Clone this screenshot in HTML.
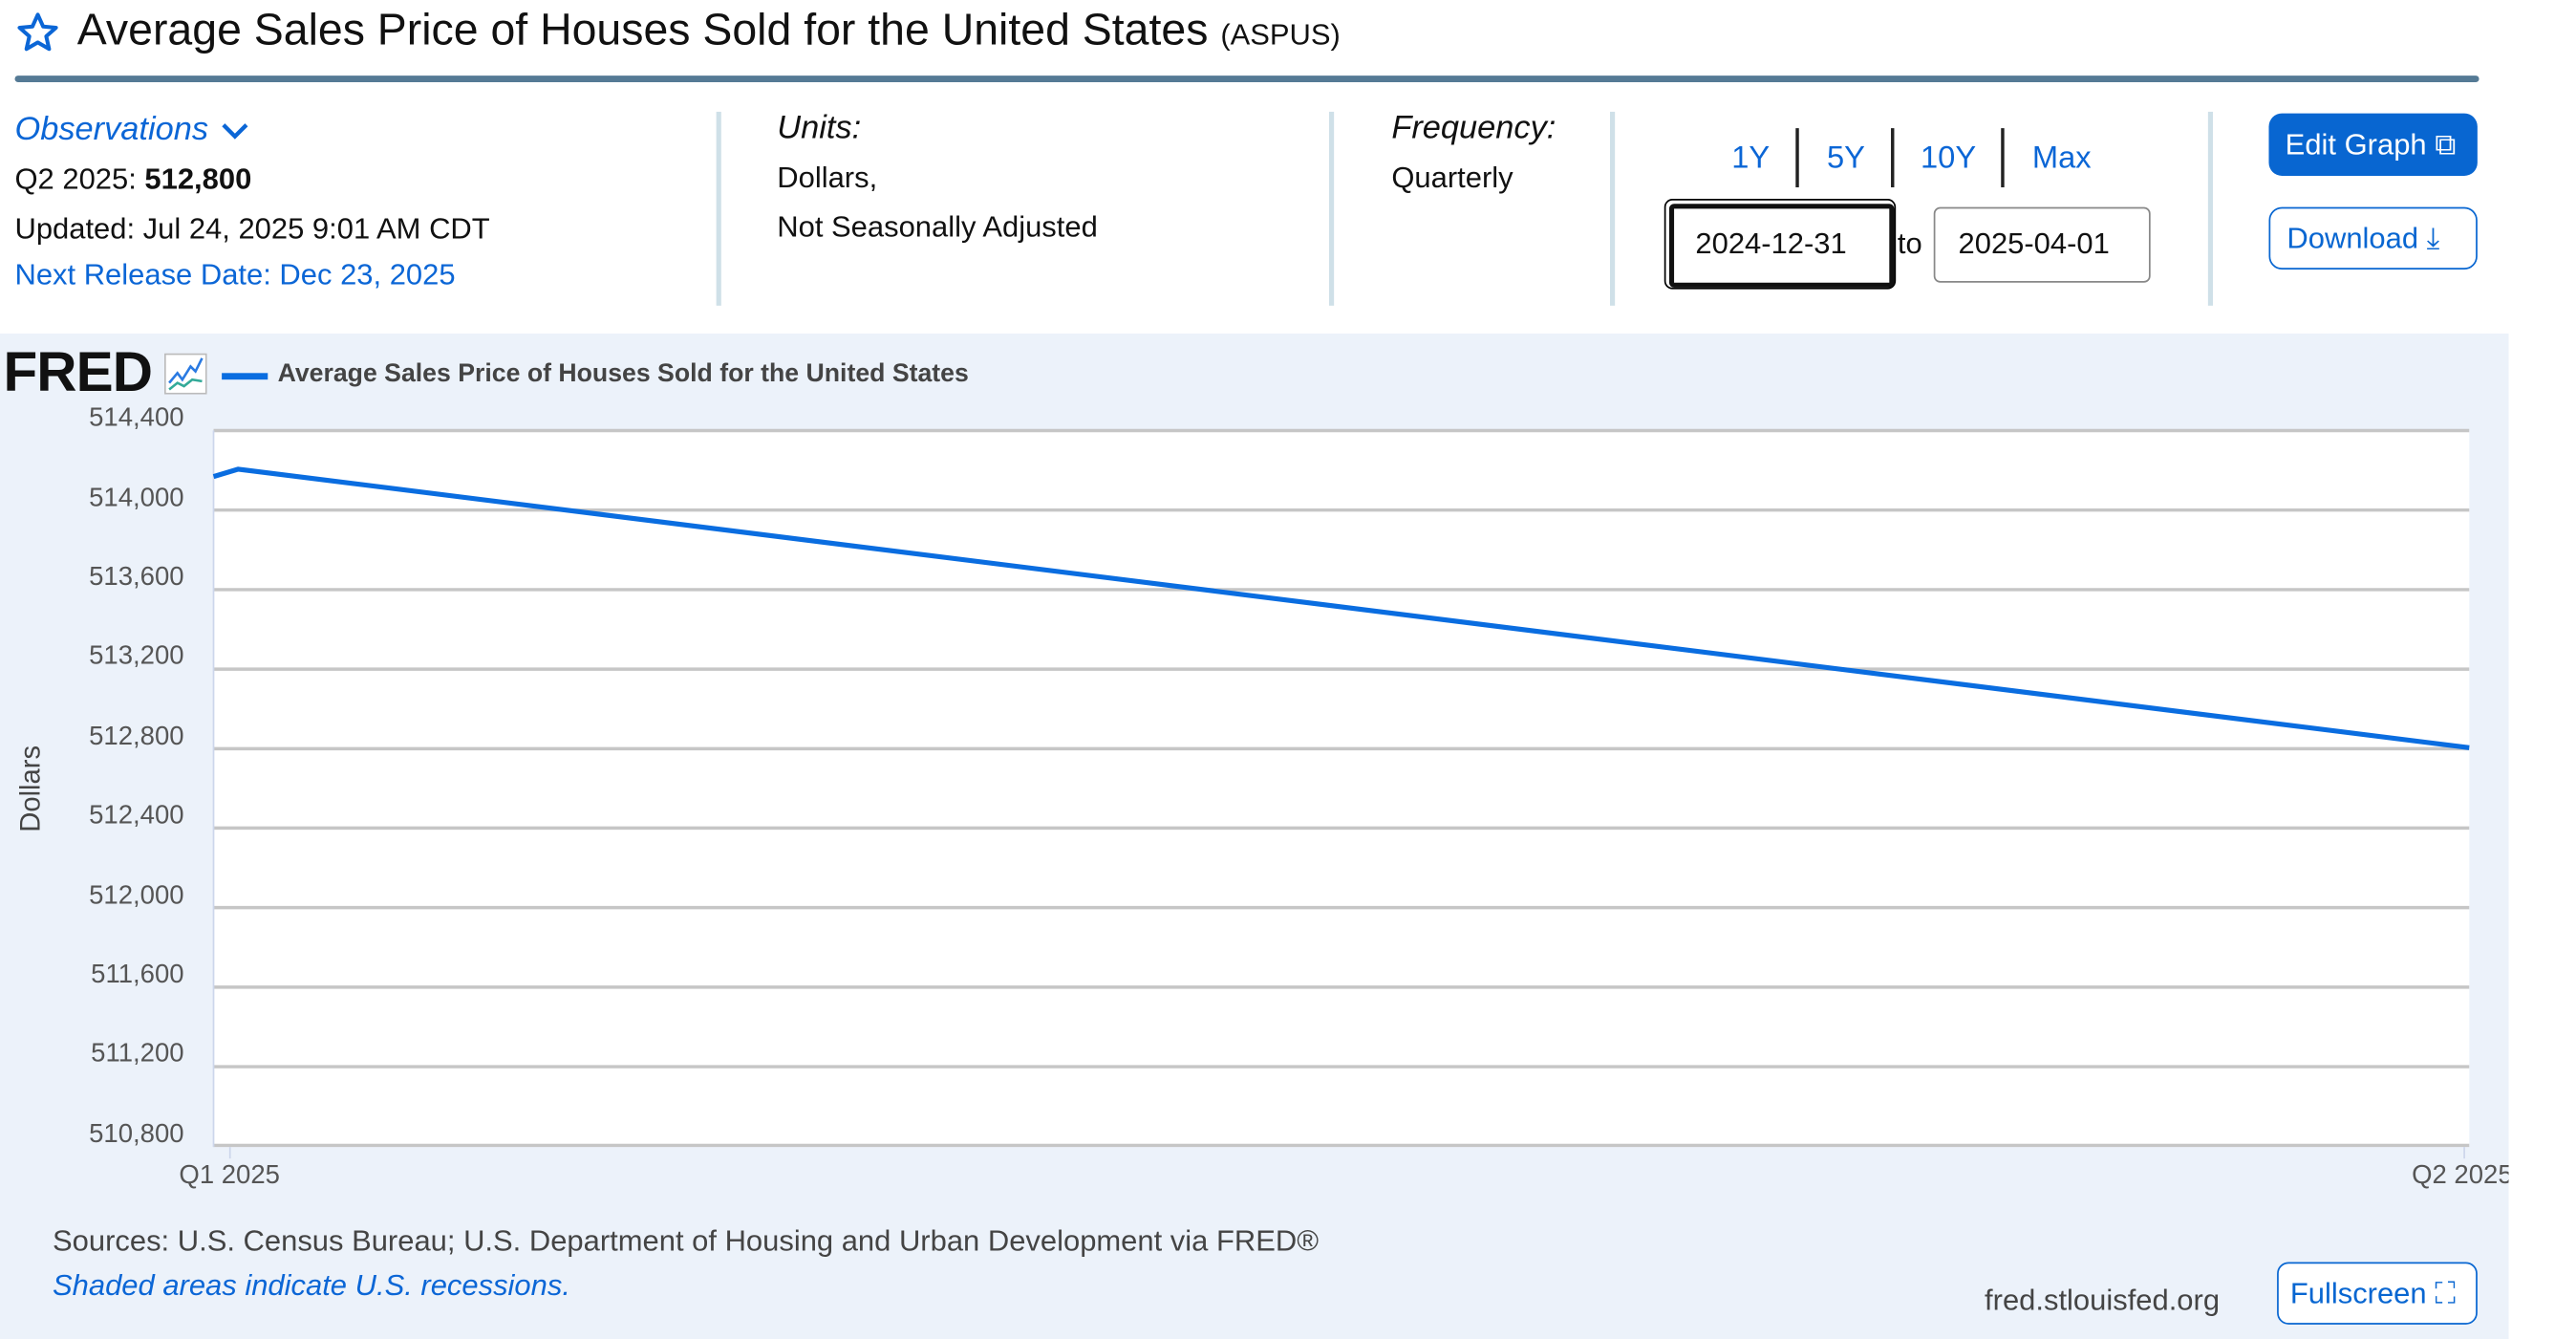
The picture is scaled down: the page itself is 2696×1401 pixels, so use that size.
<!DOCTYPE html>
<html><head><meta charset="utf-8">
<style>
html,body{margin:0;padding:0;background:#fff;width:2696px;height:1400px;overflow:hidden}
#s{position:absolute;left:0;top:0;width:1568px;height:815px;transform:scale(1.7194);transform-origin:0 0;font-family:"Liberation Sans",Arial,sans-serif;color:#111}
.a{position:absolute;white-space:nowrap}
.blue{color:#0b66d6}
.div{position:absolute;top:68px;height:118px;width:3px;background:#cfe0e8}
.sep{position:absolute;top:78px;height:36px;width:1.5px;background:#222}
.yl{position:absolute;right:1456px;font-size:16px;color:#555;text-align:right}
</style></head><body><div id="s">
<svg class="a" style="left:9px;top:6px" width="28" height="28" viewBox="0 0 24 24"><path d="M12 2.5l2.8 6.2 6.7.6-5.1 4.5 1.5 6.6L12 17l-5.9 3.4 1.5-6.6L2.5 9.3l6.7-.6z" fill="none" stroke="#0b66d6" stroke-width="2" stroke-linejoin="round"/></svg>
<div class="a" style="left:47px;top:3px;font-size:27px;color:#111">Average Sales Price of Houses Sold for the United States <span style="font-size:18px">(ASPUS)</span></div>
<div class="a" style="left:9px;top:46px;width:1500px;height:4px;background:#557a95;border-radius:2px"></div>

<div class="a blue" style="left:9px;top:68px;font-size:20px;font-style:italic">Observations</div>
<svg class="a" style="left:134px;top:74px" width="18" height="12"><path d="M2 2l7 7 7-7" fill="none" stroke="#0b66d6" stroke-width="2.5"/></svg>
<div class="a" style="left:9px;top:99px;font-size:18px">Q2 2025: <b>512,800</b></div>
<div class="a" style="left:9px;top:129px;font-size:18px">Updated: Jul 24, 2025 9:01 AM CDT</div>
<div class="a blue" style="left:9px;top:157px;font-size:18px">Next Release Date: Dec 23, 2025</div>
<div class="div" style="left:436px"></div>
<div class="div" style="left:809px"></div>
<div class="div" style="left:980px"></div>
<div class="div" style="left:1344px"></div>
<div class="a" style="left:473px;top:67px;font-size:20px;font-style:italic">Units:</div>
<div class="a" style="left:473px;top:98px;font-size:18px">Dollars,</div>
<div class="a" style="left:473px;top:128px;font-size:18px">Not Seasonally Adjusted</div>
<div class="a" style="left:847px;top:67px;font-size:20px;font-style:italic">Frequency:</div>
<div class="a" style="left:847px;top:98px;font-size:18px">Quarterly</div>

<div class="a blue" style="left:1054px;top:86px;font-size:19px">1Y</div>
<div class="sep" style="left:1093px"></div>
<div class="a blue" style="left:1112px;top:86px;font-size:19px">5Y</div>
<div class="sep" style="left:1151px"></div>
<div class="a blue" style="left:1169px;top:86px;font-size:19px">10Y</div>
<div class="sep" style="left:1218px"></div>
<div class="a blue" style="left:1237px;top:86px;font-size:19px">Max</div>

<div class="a" style="left:1013px;top:121px;width:139px;height:53px;border:1px solid #000;border-radius:5px"></div>
<div class="a" style="left:1016px;top:124px;width:131px;height:45px;border:3px solid #111;border-radius:3px"></div>
<div class="a" style="left:1032px;top:138px;font-size:18px">2024-12-31</div>
<div class="a" style="left:1155px;top:138px;font-size:18px">to</div>
<div class="a" style="left:1177px;top:126px;width:130px;height:44px;border:1px solid #888;border-radius:4px"></div>
<div class="a" style="left:1192px;top:138px;font-size:18px">2025-04-01</div>

<div class="a" style="left:1381px;top:69px;width:127px;height:38px;background:#0866d1;border-radius:8px;color:#fff;font-size:18px;line-height:38px;text-indent:10px">Edit Graph &#x29C9;</div>
<div class="a" style="left:1381px;top:126px;width:125px;height:36px;border:1px solid #0866d1;border-radius:8px;color:#0866d1;font-size:18px;line-height:36px;text-indent:10px;background:#fff">Download &#x2913;</div>

<div class="a" style="left:0;top:203px;width:1527px;height:612px;background:#ecf2fa"></div>
<div class="a" style="left:2px;top:208px;font-size:34px;font-weight:bold;letter-spacing:-0.5px;color:#111">FRED</div>
<svg class="a" style="left:100px;top:215px" width="26" height="25"><rect x="0.5" y="0.5" width="25" height="24" fill="#fff" stroke="#bbb"/><path d="M3 18l5-6 3 4 5-8 3 3 4-8" fill="none" stroke="#2a7ae2" stroke-width="1.5"/><path d="M3 22l5-4 4 2 5-4 6 1" fill="none" stroke="#3a9" stroke-width="1.5"/></svg>
<div class="a" style="left:135px;top:227px;width:28px;height:4px;background:#0a6de0"></div>
<div class="a" style="left:169px;top:219px;font-size:15.5px;font-weight:bold;color:#444">Average Sales Price of Houses Sold for the United States</div>

<svg class="a" style="left:0;top:0" width="1568" height="815">
<rect x="130" y="262" width="1373" height="435" fill="#fff"/>
<g stroke="#c6c6c6" stroke-width="2">
<line x1="130" x2="1503" y1="262" y2="262"/><line x1="130" x2="1503" y1="310.4" y2="310.4"/>
<line x1="130" x2="1503" y1="358.8" y2="358.8"/><line x1="130" x2="1503" y1="407.2" y2="407.2"/>
<line x1="130" x2="1503" y1="455.6" y2="455.6"/><line x1="130" x2="1503" y1="503.9" y2="503.9"/>
<line x1="130" x2="1503" y1="552.3" y2="552.3"/><line x1="130" x2="1503" y1="600.7" y2="600.7"/>
<line x1="130" x2="1503" y1="649.1" y2="649.1"/><line x1="130" x2="1503" y1="697" y2="697"/>
</g>
<line x1="130" x2="130" y1="262" y2="698" stroke="#ccd6eb" stroke-width="1"/>
<line x1="140" x2="140" y1="698" y2="705" stroke="#ccd6eb"/>
<line x1="1500" x2="1500" y1="698" y2="705" stroke="#ccd6eb"/>
<polyline points="130,290 145,285.5 1503,455" fill="none" stroke="#0a6de0" stroke-width="3" stroke-linejoin="round"/>
<text x="24" y="480" transform="rotate(-90 24 480)" text-anchor="middle" font-family="Liberation Sans, sans-serif" font-size="17" fill="#444">Dollars</text>
</svg>
<div class="yl" style="top:246px">514,400</div>
<div class="yl" style="top:295px">514,000</div>
<div class="yl" style="top:343px">513,600</div>
<div class="yl" style="top:391px">513,200</div>
<div class="yl" style="top:440px">512,800</div>
<div class="yl" style="top:488px">512,400</div>
<div class="yl" style="top:537px">512,000</div>
<div class="yl" style="top:585px">511,600</div>
<div class="yl" style="top:633px">511,200</div>
<div class="yl" style="top:682px">510,800</div>
<div class="a" style="left:109px;top:707px;font-size:16px;color:#555">Q1 2025</div>
<div class="a" style="left:1468px;top:707px;font-size:16px;color:#555;width:59px;overflow:hidden">Q2 2025</div>

<div class="a" style="left:32px;top:745px;font-size:18px;color:#444">Sources: U.S. Census Bureau; U.S. Department of Housing and Urban Development via FRED®</div>
<div class="a blue" style="left:32px;top:772px;font-size:18px;font-style:italic">Shaded areas indicate U.S. recessions.</div>
<div class="a" style="left:1208px;top:781px;font-size:18px;color:#444">fred.stlouisfed.org</div>
<div class="a" style="left:1386px;top:768px;width:120px;height:36px;border:1px solid #0866d1;border-radius:7px;background:#fff;color:#0866d1;font-size:18px;line-height:36px;text-indent:7px">Fullscreen &#x26F6;</div>
</div></body></html>
